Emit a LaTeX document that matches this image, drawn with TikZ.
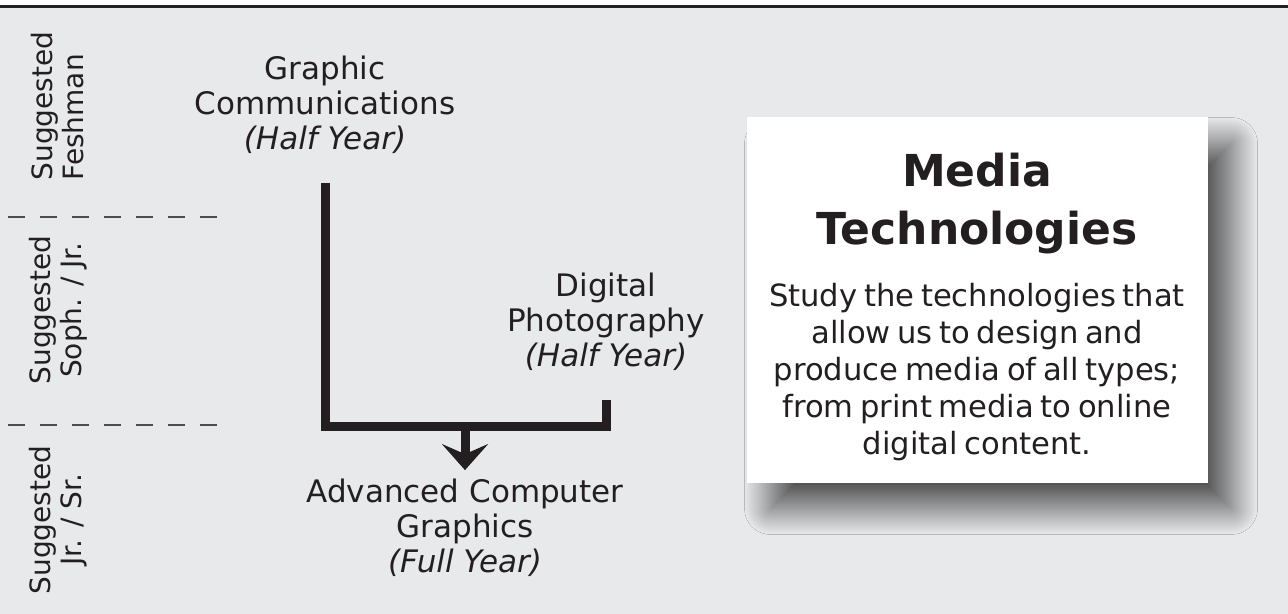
\documentclass[tikz,border=0pt]{standalone}
\usepackage{fontspec}
\setmainfont{DejaVu Sans}
\usetikzlibrary{arrows.meta,shadows.blur,positioning}

\definecolor{bgray}{HTML}{E8E9EB}
\definecolor{ink}{HTML}{231F20}
\definecolor{dashgray}{HTML}{4D4D4F}

\tikzset{
  course/.style={align=center, text=ink, font=\fontsize{15.5}{17.5}\selectfont},
  grade/.style={align=center, rotate=90, text=ink, font=\fontsize{14}{15.5}\selectfont},
  sepline/.style={dashgray, line width=1.3pt, dash pattern=on 8.5pt off 7.5pt},
  bar/.style={ink, line width=4.5pt, line join=miter},
  infobox/.style={fill=white, text=ink, text width=215pt, align=center,
    minimum width=230.5pt, minimum height=182.5pt, inner sep=0pt,
    blur shadow={shadow xshift=12pt, shadow yshift=-13pt, shadow blur radius=13pt,
      shadow blur steps=40, shadow opacity=65}}
}

\begin{document}
\begin{tikzpicture}[x=0.5pt,y=-0.5pt]
\useasboundingbox (0,0) rectangle (1288,614);
\fill[bgray] (0,0) rectangle (1288,614);
\fill[white!95!bgray] (0,0) rectangle (1288,6);
\draw[ink, line width=1.5pt] (0,7) -- (1288,7);

% grade levels
\node[grade, align=left] (fresh) at (58,106) {Suggested\\Feshman};
\node[grade] (soph) at (58,310) {Suggested\\Soph. / Jr.};
\node[grade] (senior) at (58,520) {Suggested\\Jr. / Sr.};
\draw[sepline] (8,217) -- (218,217);
\draw[sepline] (8,425) -- (218,425);

% courses
\node[course] (gc) at (325,105) {Graphic\\Communications\\\textit{(Half Year)}};
\node[course] (dp) at (606,322) {Digital\\Photography\\\textit{(Half Year)}};
\node[course] (acg) at (465,528) {Advanced Computer\\Graphics\\\textit{(Full Year)}};

\coordinate (merge) at (465,426);
\draw[bar] ([yshift=-11pt]gc.south) |- (merge) -| ([yshift=-11pt]dp.south);
\draw[bar, -{Stealth[length=13pt, width=23pt, inset=5pt]}] (merge) -- ([yshift=1pt]acg.north);

% description
\node[infobox] (mt) at (977,300) {%
  {\fontsize{22}{29}\selectfont\bfseries Media\\Technologies\par}
  \vspace{12.5pt}
  {\fontsize{15.3}{18.5}\selectfont Study the technologies that\\allow us to design and\\produce media of all types;\\from print media to online\\digital content.\par}
  \vspace{-6.5pt}};
\end{tikzpicture}
\end{document}
